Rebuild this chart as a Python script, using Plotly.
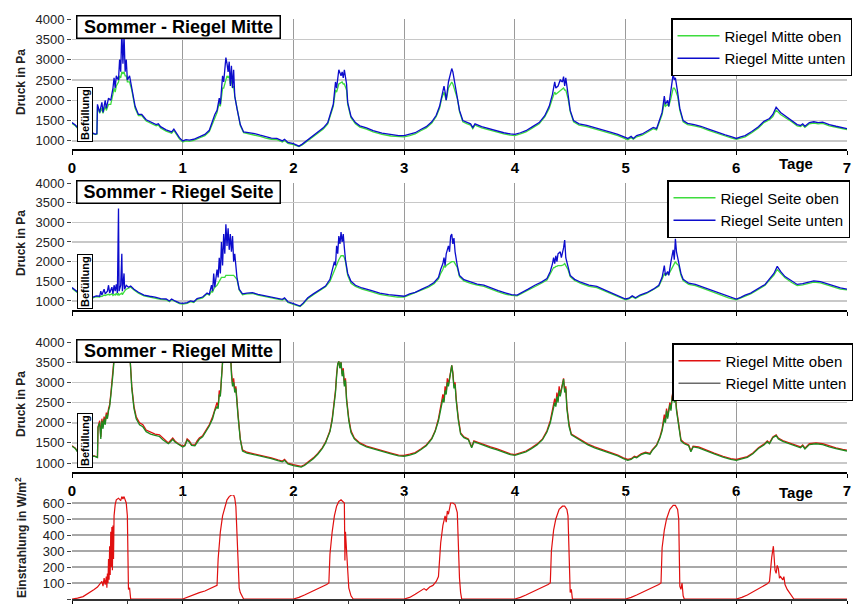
import plotly.graph_objects as go

# ---------------- data ----------------
DAY_TICKS = [0, 1, 2, 3, 4, 5, 6, 7]
DAY_LABELS = ["0", "1", "2", "3", "4", "5", "6", "7"]
PRESSURE_TICKS = [1000, 1500, 2000, 2500, 3000, 3500, 4000]
IRR_TICKS = [0, 100, 200, 300, 400, 500, 600]

# Panel 1: Sommer - Riegel Mitte (Druck in Pa)
P1_DAYS = [
    0.00, 0.03, 0.06, 0.10, 0.15, 0.19, 0.21, 0.225, 0.23, 0.25,
    0.27, 0.28, 0.30, 0.31, 0.33, 0.35, 0.37, 0.38, 0.39, 0.40,
    0.42, 0.43, 0.44, 0.45, 0.46, 0.47, 0.48, 0.49, 0.50, 0.52,
    0.54, 0.57, 0.60, 0.63, 0.67, 0.72, 0.76, 0.78, 0.80, 0.85,
    0.90, 0.92, 0.94, 0.97,
    1.00, 1.03, 1.06, 1.10, 1.15, 1.20, 1.24, 1.27, 1.29, 1.31,
    1.33, 1.34, 1.36, 1.37, 1.39, 1.40, 1.41, 1.42, 1.43, 1.44,
    1.45, 1.46, 1.47, 1.49, 1.52, 1.55, 1.60, 1.65, 1.70, 1.75,
    1.80, 1.85, 1.90, 1.92, 1.95,
    2.00, 2.03, 2.05, 2.08, 2.12, 2.17, 2.22, 2.27, 2.31, 2.34,
    2.36, 2.38, 2.39, 2.41, 2.43, 2.44, 2.45, 2.46, 2.48, 2.49,
    2.52, 2.56, 2.60, 2.66, 2.72, 2.80, 2.88, 2.95,
    3.00, 3.05, 3.10, 3.15, 3.20, 3.25, 3.29, 3.32, 3.34, 3.36,
    3.37, 3.38, 3.40, 3.42, 3.43, 3.44, 3.46, 3.48, 3.50, 3.53,
    3.57, 3.60, 3.62, 3.64, 3.70, 3.76, 3.82, 3.90, 3.96,
    4.00, 4.05, 4.10, 4.16, 4.22, 4.27, 4.31, 4.34, 4.36, 4.37,
    4.39, 4.41, 4.43, 4.44, 4.45, 4.46, 4.48, 4.50, 4.53, 4.58,
    4.65, 4.72, 4.80, 4.87, 4.93, 4.98,
    5.02, 5.05, 5.07, 5.10, 5.15, 5.20, 5.25, 5.28, 5.31, 5.33,
    5.35, 5.36, 5.38, 5.39, 5.41, 5.43, 5.44, 5.45, 5.47, 5.49,
    5.52, 5.56, 5.62, 5.68, 5.75, 5.82, 5.90, 5.96,
    6.00, 6.04, 6.08, 6.14, 6.20, 6.25, 6.30, 6.33, 6.36, 6.40,
    6.45, 6.50, 6.55, 6.58, 6.60, 6.62, 6.66, 6.70, 6.74, 6.78,
    6.84, 6.90, 6.96, 7.00,
]
P1_UNTEN = [
    1450, 1390, 1300, 1230, 1200, 1190, 1160, 1180, 1900, 1700,
    1950, 1700, 2000, 1800, 2050, 2000, 2300, 2550, 2300, 2600,
    2500, 3000, 2700, 3700, 2900, 3600, 2700, 3000, 2500, 2600,
    2300, 1850, 1650, 1650, 1520, 1450, 1400, 1420, 1350, 1270,
    1220, 1290, 1200, 1080,
    1000, 1030, 1020, 1040, 1100, 1160, 1260, 1500, 1650, 1750,
    2050, 1900, 2600, 2450, 3050, 2900, 2700, 2950, 2350, 2850,
    2300, 2750, 2100, 1800, 1400, 1220, 1200, 1180, 1140, 1100,
    1070, 1060, 1000, 1040, 960,
    930, 900, 870, 920, 1000, 1100, 1200, 1320, 1450, 1700,
    1900, 2450, 2300, 2750, 2600, 2700, 2550, 2750, 2400, 1950,
    1600, 1450, 1370, 1320, 1250, 1190, 1150, 1130,
    1130, 1160, 1200, 1280, 1350, 1470, 1630, 1850, 2150, 2350,
    2200, 2000, 2450, 2650, 2780, 2700, 2350, 2100, 1750, 1500,
    1450, 1420, 1330, 1420, 1350, 1300, 1250, 1200, 1170,
    1160, 1200, 1250, 1350, 1450, 1620, 1850, 2150, 2450, 2300,
    2350, 2500, 2450, 2580, 2350, 2550, 2100, 1750, 1500, 1420,
    1380, 1330, 1270, 1210, 1160, 1110,
    1060, 1110, 1060, 1130, 1170, 1250, 1330, 1300, 1550, 1700,
    2100, 1900, 2000, 1850, 2250, 2650, 2500, 2550, 2200, 1800,
    1500, 1430, 1400, 1360, 1290, 1220, 1150, 1100,
    1060, 1100, 1130, 1230, 1350, 1480, 1550, 1650, 1830, 1700,
    1600, 1500, 1400, 1380, 1420, 1360, 1450, 1470, 1450, 1460,
    1400, 1360, 1330, 1300,
]
P1_OBEN = [
    1430, 1370, 1280, 1210, 1180, 1170, 1150, 1160, 1850, 1680,
    1800, 1680, 1850, 1750, 1900, 1900, 2150, 2300, 2200, 2350,
    2450, 2600, 2550, 2700, 2650, 2700, 2600, 2600, 2450, 2450,
    2250, 1800, 1620, 1620, 1490, 1420, 1370, 1390, 1320, 1240,
    1190, 1260, 1170, 1050,
    970, 1000, 990, 1010, 1070, 1130, 1230, 1450, 1600, 1700,
    1950, 1850, 2300, 2300, 2500, 2600, 2550, 2600, 2400, 2500,
    2300, 2350, 2100, 1780, 1380, 1200, 1170, 1150, 1110, 1070,
    1040, 1030, 970, 1010, 940,
    910, 880, 860, 900, 980, 1070, 1170, 1290, 1420, 1650,
    1850, 2250, 2200, 2400, 2450, 2450, 2400, 2400, 2250, 1900,
    1570, 1420, 1340, 1290, 1220, 1160, 1120, 1100,
    1100, 1130, 1170, 1250, 1320, 1440, 1600, 1800, 2050, 2200,
    2100, 2000, 2300, 2400, 2450, 2400, 2250, 2050, 1720, 1470,
    1420, 1390, 1300, 1390, 1320, 1270, 1220, 1170, 1140,
    1130, 1170, 1220, 1320, 1420, 1590, 1800, 2050, 2200, 2150,
    2200, 2250, 2300, 2300, 2250, 2250, 2050, 1720, 1470, 1390,
    1350, 1300, 1240, 1180, 1130, 1080,
    1030, 1080, 1040, 1100, 1140, 1220, 1300, 1270, 1500, 1650,
    1950, 1850, 1900, 1850, 2050, 2300, 2300, 2250, 2100, 1750,
    1470, 1400, 1370, 1330, 1260, 1190, 1120, 1070,
    1040, 1070, 1100, 1200, 1320, 1450, 1520, 1600, 1760, 1650,
    1570, 1470, 1370, 1350, 1390, 1330, 1420, 1440, 1420, 1430,
    1370, 1330, 1300, 1280,
]

# Panel 2: Sommer - Riegel Seite (Druck in Pa)
P2_DAYS = [
    0.00, 0.03, 0.06, 0.10, 0.15, 0.19, 0.22, 0.25, 0.26, 0.27,
    0.29, 0.30, 0.32, 0.33, 0.34, 0.36, 0.37, 0.38, 0.39, 0.40,
    0.41, 0.42, 0.425, 0.44, 0.45, 0.455, 0.47, 0.475, 0.49, 0.51,
    0.53, 0.56, 0.60, 0.65, 0.70, 0.75, 0.80, 0.85, 0.88, 0.90,
    0.93, 0.97,
    1.00, 1.04, 1.07, 1.10, 1.13, 1.18, 1.22, 1.24, 1.26, 1.27,
    1.28, 1.29, 1.31, 1.32, 1.33, 1.34, 1.35, 1.36, 1.37, 1.38,
    1.39, 1.40, 1.41, 1.42, 1.43, 1.44, 1.45, 1.46, 1.47, 1.49,
    1.51, 1.54, 1.58, 1.63, 1.68, 1.73, 1.80, 1.86, 1.90, 1.92,
    1.95,
    2.00, 2.03, 2.06, 2.09, 2.13, 2.18, 2.24, 2.29, 2.33, 2.35,
    2.37, 2.38, 2.39, 2.40, 2.41, 2.42, 2.43, 2.44, 2.45, 2.46,
    2.47, 2.49, 2.52, 2.56, 2.62, 2.70, 2.78, 2.86, 2.94,
    3.00, 3.05, 3.10, 3.16, 3.22, 3.27, 3.31, 3.33, 3.35, 3.36,
    3.37, 3.38, 3.40, 3.41, 3.42, 3.43, 3.44, 3.45, 3.46, 3.48,
    3.50, 3.54, 3.60, 3.66, 3.72, 3.78, 3.85, 3.92, 3.97,
    4.02, 4.07, 4.12, 4.18, 4.24, 4.29, 4.32, 4.34, 4.35, 4.36,
    4.37, 4.38, 4.39, 4.41, 4.42, 4.44, 4.45, 4.46, 4.48, 4.50,
    4.54, 4.60, 4.67, 4.74, 4.82, 4.90, 4.96,
    5.00, 5.03, 5.06, 5.09, 5.13, 5.19, 5.25, 5.30, 5.33, 5.35,
    5.36, 5.38, 5.39, 5.41, 5.43, 5.44, 5.45, 5.46, 5.48, 5.50,
    5.52, 5.57, 5.63, 5.70, 5.78, 5.86, 5.93,
    6.00, 6.04, 6.08, 6.13, 6.18, 6.22, 6.26, 6.30, 6.34, 6.37,
    6.40, 6.44, 6.50, 6.55, 6.60, 6.65, 6.70, 6.76, 6.82, 6.88,
    6.94, 7.00,
]
P2_UNTEN = [
    1340, 1270, 1200, 1120, 1100, 1100, 1130, 1120, 1250, 1150,
    1300, 1180, 1250, 1400, 1200, 1350, 1180, 1400, 1250, 1420,
    1200, 3350, 1250, 1400, 2200, 1250, 1700, 1300, 1400, 1350,
    1380, 1300, 1220, 1150, 1120, 1100, 1060, 1050, 1000, 1050,
    1000, 950,
    940, 960, 1000, 980, 1060, 1100, 1200, 1170, 1400, 1250,
    1700, 1350, 1800, 1600, 2100, 1700, 2500, 1900, 2700, 2200,
    2950, 2400, 2850, 2300, 2700, 2250, 2650, 2000, 2200, 1600,
    1300, 1180, 1200, 1210, 1170, 1140, 1090, 1060, 1040, 1080,
    980,
    930, 900, 870, 950, 1080, 1180, 1280, 1380, 1550, 1750,
    2000, 1900, 2400, 2200, 2650, 2450, 2750, 2500, 2700, 2350,
    2050, 1700, 1500, 1400, 1330, 1270, 1200, 1160, 1130,
    1120, 1180, 1220, 1300, 1380, 1470, 1600, 1800, 1950, 2100,
    1900, 2200, 2400, 2250, 2650, 2700, 2450, 2600, 2250, 1900,
    1650, 1540, 1480, 1430, 1400, 1330, 1260, 1200, 1160,
    1150, 1220, 1300, 1400, 1480, 1570, 1750, 1950, 2100, 1950,
    2150, 2000, 2200, 2250, 2100, 2350, 2550, 2100, 1850, 1650,
    1550, 1470, 1400, 1370, 1270, 1180, 1100,
    1050, 1070, 1130, 1080, 1150, 1210, 1300, 1400, 1600, 1900,
    1650, 1750, 1650, 2000, 2300, 2050, 2580, 2250, 2000, 1700,
    1550, 1450, 1420, 1350, 1260, 1180, 1100,
    1050, 1090, 1150, 1200, 1280, 1340, 1420, 1560, 1700, 1880,
    1750, 1620, 1500, 1420, 1440, 1480, 1510, 1490, 1430, 1380,
    1330, 1300,
]
P2_OBEN = [
    1320, 1250, 1180, 1100, 1080, 1080, 1110, 1100, 1120, 1110,
    1150, 1140, 1160, 1170, 1150, 1180, 1140, 1170, 1150, 1200,
    1150, 1200, 1150, 1180, 1200, 1160, 1250, 1250, 1300, 1320,
    1350, 1280, 1200, 1130, 1100, 1080, 1040, 1030, 980, 1030,
    980, 930,
    920, 940, 980, 960, 1040, 1080, 1180, 1150, 1250, 1230,
    1300, 1350, 1400, 1450, 1500, 1550, 1600, 1600, 1600, 1600,
    1650, 1650, 1650, 1650, 1650, 1650, 1650, 1650, 1620, 1550,
    1280, 1160, 1180, 1190, 1150, 1120, 1070, 1040, 1020, 1060,
    960,
    910, 880, 860, 930, 1060, 1160, 1260, 1360, 1500, 1650,
    1800, 1850, 1950, 2000, 2050, 2100, 2150, 2150, 2150, 2100,
    2000, 1650, 1450, 1370, 1300, 1240, 1170, 1130, 1100,
    1100, 1160, 1200, 1280, 1350, 1440, 1560, 1700, 1800, 1900,
    1850, 1900, 1950, 1950, 2000, 2000, 2000, 2000, 1950, 1850,
    1620, 1510, 1450, 1400, 1370, 1300, 1230, 1170, 1140,
    1130, 1200, 1270, 1370, 1450, 1530, 1680, 1800, 1850, 1850,
    1880, 1880, 1900, 1900, 1900, 1920, 1950, 1900, 1800, 1620,
    1520, 1440, 1370, 1340, 1240, 1150, 1080,
    1030, 1050, 1110, 1060, 1130, 1190, 1280, 1370, 1550, 1700,
    1650, 1700, 1680, 1800, 1900, 1950, 2000, 1950, 1900, 1650,
    1520, 1420, 1390, 1320, 1230, 1150, 1080,
    1030, 1070, 1130, 1180, 1260, 1320, 1400, 1530, 1660, 1800,
    1720, 1590, 1470, 1390, 1410, 1450, 1480, 1460, 1400, 1350,
    1300, 1280,
]

# Panel 3: Sommer - Riegel Mitte (second measurement, Druck in Pa)
P3_DAYS = [
    0.00, 0.03, 0.06, 0.10, 0.15, 0.20, 0.23, 0.235, 0.25, 0.26,
    0.27, 0.28, 0.29, 0.30, 0.31, 0.32, 0.33, 0.34, 0.35, 0.36,
    0.37, 0.38, 0.39, 0.40, 0.45, 0.50, 0.52, 0.53, 0.54, 0.56,
    0.58, 0.61, 0.64, 0.67, 0.71, 0.75, 0.79, 0.82, 0.85, 0.87,
    0.89, 0.91, 0.93, 0.96,
    1.00, 1.02, 1.04, 1.06, 1.08, 1.11, 1.13, 1.15, 1.18, 1.21,
    1.24, 1.27, 1.29, 1.31, 1.32, 1.33, 1.34, 1.35, 1.36, 1.37,
    1.40, 1.43, 1.44, 1.45, 1.46, 1.47, 1.48, 1.49, 1.50, 1.52,
    1.54, 1.58, 1.63, 1.68, 1.74, 1.80, 1.86, 1.90, 1.92, 1.95,
    2.00, 2.04, 2.07, 2.10, 2.14, 2.18, 2.22, 2.26, 2.29, 2.31,
    2.33, 2.35, 2.37, 2.38, 2.39, 2.40, 2.41, 2.42, 2.43, 2.44,
    2.45, 2.46, 2.47, 2.48, 2.50, 2.52, 2.55, 2.60, 2.66, 2.72,
    2.80, 2.88, 2.95,
    3.00, 3.05, 3.10, 3.15, 3.20, 3.25, 3.28, 3.31, 3.33, 3.35,
    3.36, 3.37, 3.38, 3.39, 3.40, 3.42, 3.43, 3.44, 3.45, 3.46,
    3.47, 3.49, 3.51, 3.54, 3.58, 3.61, 3.63, 3.66, 3.72, 3.78,
    3.84, 3.90, 3.96,
    4.00, 4.05, 4.10, 4.15, 4.20, 4.25, 4.29, 4.32, 4.34, 4.36,
    4.37, 4.38, 4.39, 4.40, 4.41, 4.43, 4.44, 4.45, 4.46, 4.47,
    4.49, 4.51, 4.55, 4.60, 4.66, 4.72, 4.80, 4.87, 4.93, 4.98,
    5.02, 5.05, 5.08, 5.10, 5.14, 5.18, 5.22, 5.24, 5.28, 5.31,
    5.33, 5.35, 5.36, 5.37, 5.38, 5.40, 5.41, 5.42, 5.43, 5.44,
    5.45, 5.46, 5.48, 5.50, 5.53, 5.57, 5.59, 5.61, 5.66, 5.72,
    5.80, 5.88, 5.95,
    6.00, 6.05, 6.10, 6.15, 6.20, 6.25, 6.28, 6.30, 6.33, 6.36,
    6.38, 6.42, 6.48, 6.54, 6.58, 6.60, 6.62, 6.66, 6.72, 6.78,
    6.84, 6.90, 6.96, 7.00,
]
P3_OBEN = [
    1430, 1370, 1250, 1180, 1170, 1180, 1150, 1900, 2050, 1650,
    2100, 1900, 2150, 2000, 2250, 2150, 2350, 2450, 2700, 3100,
    3300, 3600, 3900, 4300, 4600, 4300, 3800, 3300, 2900, 2400,
    2150, 2000, 1950, 1820, 1760, 1720, 1700, 1620, 1560, 1500,
    1560, 1620, 1550, 1480,
    1420, 1450, 1600, 1550, 1460, 1450, 1550, 1620, 1680, 1800,
    1950, 2150, 2350, 2500, 2400, 2800, 2700, 3200, 3500, 3900,
    4400, 3800, 3300, 2950, 3100, 2800, 2900, 2500, 2200, 1600,
    1330, 1270, 1240, 1210, 1180, 1130, 1080, 1050, 1090, 1000,
    960, 930, 920, 960, 1040, 1130, 1240, 1380, 1520, 1650,
    1800, 2100, 2500, 2800, 3200, 3450, 3520, 3350, 3500, 3200,
    3350, 2950, 3100, 2600, 2100, 1800, 1620, 1500, 1420, 1370,
    1300, 1250, 1200,
    1190, 1220, 1260, 1350, 1450, 1620, 1800, 2100, 2400, 2700,
    2550, 2900, 2750, 3100, 2950, 3300, 3420, 3250, 2900, 3000,
    2600, 2100, 1750, 1650, 1600, 1400, 1550, 1520, 1450, 1400,
    1350, 1290, 1230,
    1210, 1250, 1300, 1380, 1470, 1600, 1800, 2050, 2300, 2600,
    2450, 2750, 2550, 2900, 2700, 3000, 3100, 2800, 2900, 2400,
    1950, 1720, 1650, 1560, 1470, 1400, 1320, 1250, 1200, 1130,
    1090, 1110, 1170, 1150, 1230, 1270, 1240, 1330, 1450, 1650,
    1850, 2200, 2050, 2350, 2150, 2500, 2350, 2650, 2800, 2550,
    2700, 2350, 1900, 1580, 1500, 1450, 1300, 1420, 1400, 1330,
    1250, 1170, 1110,
    1090, 1120, 1160, 1250, 1380, 1470, 1550, 1500, 1650, 1700,
    1620, 1560, 1500, 1430, 1400, 1450, 1370, 1480, 1500, 1480,
    1420, 1380, 1340, 1320,
]
P3_UNTEN = [
    1420, 1360, 1240, 1170, 1160, 1170, 1140, 1880, 2000, 1600,
    2050, 1850, 2100, 1950, 2200, 2100, 2300, 2400, 2650, 3050,
    3200, 3550, 3900, 4300, 4600, 4300, 3800, 3250, 2850, 2350,
    2100, 1950, 1900, 1780, 1720, 1690, 1660, 1580, 1520, 1480,
    1530, 1590, 1520, 1460,
    1400, 1430, 1570, 1520, 1440, 1430, 1520, 1590, 1650, 1770,
    1920, 2100, 2300, 2400, 2350, 2700, 2650, 3100, 3500, 3900,
    4400, 3800, 3200, 2900, 3000, 2750, 2850, 2450, 2150, 1580,
    1300, 1250, 1220, 1190, 1160, 1110, 1060, 1030, 1070, 980,
    940, 910, 900, 940, 1020, 1110, 1220, 1360, 1500, 1620,
    1780, 2050, 2450, 2750, 3150, 3450, 3520, 3350, 3500, 3150,
    3300, 2900, 3050, 2550, 2050, 1760, 1600, 1480, 1400, 1350,
    1280, 1230, 1180,
    1170, 1200, 1240, 1330, 1430, 1600, 1780, 2050, 2350, 2600,
    2500, 2800, 2700, 3000, 2900, 3250, 3420, 3200, 2850, 2950,
    2550, 2050, 1720, 1630, 1580, 1380, 1530, 1500, 1430, 1380,
    1330, 1270, 1210,
    1190, 1230, 1280, 1360, 1450, 1580, 1770, 2000, 2250, 2500,
    2400, 2650, 2500, 2800, 2650, 2950, 3080, 2750, 2850, 2350,
    1900, 1700, 1630, 1540, 1450, 1380, 1300, 1230, 1180, 1110,
    1070, 1090, 1150, 1130, 1210, 1250, 1220, 1310, 1430, 1620,
    1800, 2100, 2000, 2300, 2100, 2450, 2300, 2600, 2780, 2500,
    2650, 2300, 1850, 1550, 1480, 1430, 1280, 1400, 1380, 1310,
    1230, 1150, 1090,
    1070, 1100, 1140, 1230, 1360, 1450, 1530, 1480, 1630, 1680,
    1600, 1540, 1480, 1410, 1380, 1430, 1350, 1460, 1480, 1460,
    1400, 1360, 1320, 1300,
]

# Panel 4: Einstrahlung in W/m2
P4_DAYS = [
    0.00, 0.05, 0.10, 0.15, 0.20, 0.23, 0.25, 0.27, 0.28, 0.29,
    0.30, 0.31, 0.315, 0.32, 0.325, 0.33, 0.335, 0.34, 0.345, 0.35,
    0.355, 0.36, 0.365, 0.37, 0.375, 0.38, 0.39, 0.40, 0.42, 0.44,
    0.45, 0.46, 0.47, 0.48, 0.49, 0.50, 0.505, 0.51, 0.52, 0.525, 0.53,
    1.00, 1.05, 1.10, 1.15, 1.20, 1.25, 1.28, 1.31, 1.32, 1.34,
    1.36, 1.38, 1.40, 1.42, 1.44, 1.46, 1.47, 1.48, 1.50, 1.51,
    1.52, 1.55,
    2.00, 2.05, 2.10, 2.15, 2.20, 2.25, 2.30, 2.32, 2.33, 2.35,
    2.37, 2.39, 2.41, 2.43, 2.45, 2.46, 2.465, 2.47, 2.48, 2.50,
    2.52, 2.54,
    3.00, 3.05, 3.10, 3.15, 3.18, 3.20, 3.23, 3.26, 3.29, 3.31,
    3.33, 3.35, 3.37, 3.38, 3.39, 3.40, 3.42, 3.44, 3.46, 3.48,
    3.49, 3.50, 3.51, 3.52,
    4.00, 4.05, 4.10, 4.15, 4.20, 4.25, 4.30, 4.32, 4.33, 4.35,
    4.37, 4.40, 4.43, 4.45, 4.47, 4.48, 4.49, 4.50, 4.51, 4.52,
    5.00, 5.05, 5.10, 5.15, 5.20, 5.25, 5.30, 5.32, 5.33, 5.35,
    5.37, 5.40, 5.43, 5.45, 5.47, 5.48, 5.49, 5.50, 5.51, 5.52,
    5.53,
    6.00, 6.05, 6.10, 6.15, 6.20, 6.25, 6.28, 6.30, 6.31, 6.32,
    6.335, 6.345, 6.35, 6.36, 6.37, 6.38, 6.39, 6.40, 6.42, 6.43,
    6.44, 6.46, 6.48, 6.52, 7.00,
]
P4_IRR = [
    0, 5, 15, 35, 60, 75, 90, 110, 80, 130,
    90, 140, 70, 160, 100, 250, 120, 330, 150, 420,
    200, 450, 180, 460, 250, 520, 590, 620, 630, 615,
    640, 625, 640, 620, 600, 520, 300, 60, 70, 20, 0,
    0, 15, 30, 40, 50, 65, 75, 85, 250, 420,
    520, 580, 620, 640, 650, 650, 630, 580, 300, 70,
    40, 0,
    0, 10, 25, 40, 55, 70, 90, 100, 280, 420,
    520, 580, 610, 620, 610, 600, 240, 420, 300, 70,
    20, 0,
    0, 10, 30, 50, 65, 55, 75, 85, 110, 140,
    350, 460, 520, 480, 550, 530, 600, 600, 590, 540,
    300, 130, 40, 0,
    0, 10, 25, 40, 55, 70, 90, 100, 300, 430,
    500, 560, 580, 580, 560, 520, 200, 40, 60, 0,
    0, 10, 25, 40, 55, 70, 90, 100, 320, 430,
    500, 560, 585, 585, 560, 500, 80, 60, 100, 20,
    0,
    0, 10, 25, 45, 60, 80, 95, 110, 200, 260,
    330, 240, 180, 160, 210, 190, 130, 140, 120, 140,
    90, 60, 40, 0, 0,
]

assert len(P1_DAYS) == len(P1_UNTEN) == len(P1_OBEN)
assert len(P2_DAYS) == len(P2_UNTEN) == len(P2_OBEN)
assert len(P3_DAYS) == len(P3_UNTEN) == len(P3_OBEN)
assert len(P4_DAYS) == len(P4_IRR)

# ---------------- figure ----------------
W, H = 862, 604
FONT = "Arial, Liberation Sans, sans-serif"
X0, X1 = 72, 847


def px(x):
    return x / W


def py(y):
    return 1 - y / H


def dom(top, bottom):
    return [py(bottom), py(top)]


GREEN_L = "#3ddc3d"
BLUE = "#0c0ccc"
RED = "#e01010"
DKGREEN = "#1f8a1f"

fig = go.Figure()

fig.add_trace(go.Scatter(x=P1_DAYS, y=P1_OBEN, mode="lines", name="Riegel Mitte oben",
                         line=dict(color=GREEN_L, width=1.3), xaxis="x", yaxis="y", legend="legend"))
fig.add_trace(go.Scatter(x=P1_DAYS, y=P1_UNTEN, mode="lines", name="Riegel Mitte unten",
                         line=dict(color=BLUE, width=1.3), xaxis="x", yaxis="y", legend="legend"))

fig.add_trace(go.Scatter(x=P2_DAYS, y=P2_OBEN, mode="lines", name="Riegel Seite oben",
                         line=dict(color=GREEN_L, width=1.3), xaxis="x2", yaxis="y2", legend="legend2"))
fig.add_trace(go.Scatter(x=P2_DAYS, y=P2_UNTEN, mode="lines", name="Riegel Seite unten",
                         line=dict(color=BLUE, width=1.3), xaxis="x2", yaxis="y2", legend="legend2"))

fig.add_trace(go.Scatter(x=P3_DAYS, y=P3_OBEN, mode="lines", name="Riegel Mitte oben",
                         line=dict(color=RED, width=1.3), xaxis="x3", yaxis="y3", legend="legend3"))
fig.add_trace(go.Scatter(x=P3_DAYS, y=P3_UNTEN, mode="lines", name="Riegel Mitte unten",
                         line=dict(color=DKGREEN, width=1.3), xaxis="x3", yaxis="y3",
                         showlegend=False))
fig.add_trace(go.Scatter(x=[None], y=[None], mode="lines", name="Riegel Mitte unten",
                         line=dict(color="#6a6a6a", width=1.5), xaxis="x3", yaxis="y3", legend="legend3"))

fig.add_trace(go.Scatter(x=P4_DAYS, y=P4_IRR, mode="lines", showlegend=False,
                         line=dict(color=RED, width=1.2), xaxis="x4", yaxis="y4"))

xbase = dict(domain=[px(X0), px(X1)], range=[0, 7], tickvals=DAY_TICKS, ticktext=DAY_LABELS,
             showgrid=True, gridcolor="#9a9a9a", gridwidth=1, zeroline=False,
             showline=True, linecolor="black", linewidth=1.5,
             ticks="outside", ticklen=4, tickcolor="black", tickwidth=1,
             tickfont=dict(family=FONT, size=15, color="black", weight="bold"),
             automargin=False, fixedrange=True)
ybase = dict(showgrid=True, gridcolor="#c8c8c8", gridwidth=1.5, zeroline=False,
             showline=False, ticks="outside", ticklen=4, tickcolor="#444",
             tickfont=dict(family=FONT, size=13, color="#222"),
             automargin=False, fixedrange=True)

layout = dict(
    width=W, height=H, autosize=False,
    margin=dict(l=0, r=0, t=0, b=0),
    paper_bgcolor="white", plot_bgcolor="white",
    font=dict(family=FONT, color="black"),
    template="none",
    xaxis=dict(xbase, anchor="y"),
    xaxis2=dict(xbase, anchor="y2", showticklabels=False),
    xaxis3=dict(xbase, anchor="y3"),
    xaxis4=dict(xbase, anchor="y4", showticklabels=False, linecolor="#333",
                minor=dict(dtick=0.5, tick0=0, ticks="outside", ticklen=4, tickcolor="#333", showgrid=False)),
    yaxis=dict(ybase, domain=dom(19, 149), range=[800, 4000], tickvals=PRESSURE_TICKS, anchor="x"),
    yaxis2=dict(ybase, domain=dom(183, 310), range=[770, 4000], tickvals=PRESSURE_TICKS, anchor="x2"),
    yaxis3=dict(ybase, domain=dom(342, 472), range=[780, 4000], tickvals=PRESSURE_TICKS, anchor="x3"),
    yaxis4=dict(ybase, domain=dom(495, 599), range=[0, 650], tickvals=IRR_TICKS, anchor="x4",
                gridcolor="#a8a8a8"),
    showlegend=True,
)

leg = dict(xanchor="right", yanchor="top", bgcolor="white", bordercolor="black", borderwidth=1.5,
           font=dict(family=FONT, size=15, color="black"), tracegroupgap=0, itemwidth=42,
           traceorder="normal")
layout["legend"] = dict(leg, x=px(852), y=py(18))
layout["legend2"] = dict(leg, x=px(850), y=py(180))
layout["legend3"] = dict(leg, x=px(853), y=py(343))

fig.update_layout(**layout)

annotations = []
# panel titles
for title, top in [("Sommer - Riegel Mitte", 15), ("Sommer - Riegel Seite", 180), ("Sommer - Riegel Mitte", 339)]:
    annotations.append(dict(text="<b>" + title + "</b>", xref="paper", yref="paper",
                            x=px(76), y=py(top), xanchor="left", yanchor="top", showarrow=False,
                            font=dict(family=FONT, size=18, color="black"),
                            bgcolor="white", bordercolor="black", borderwidth=1.5, borderpad=1,
                            width=200, height=19, align="center"))
# Befuellung labels
for cy in [115, 282, 441]:
    annotations.append(dict(text="<b>Befüllung</b>", xref="paper", yref="paper",
                            x=px(85), y=py(cy), xanchor="center", yanchor="middle", showarrow=False,
                            textangle=-90, font=dict(family=FONT, size=11, color="black"),
                            bgcolor="white", bordercolor="black", borderwidth=1, borderpad=1))
# y-axis titles
for txt, cy in [("Druck in Pa", 82), ("Druck in Pa", 243), ("Druck in Pa", 404),
                ("Einstrahlung in W/m<sup>2</sup>", 538)]:
    annotations.append(dict(text="<b>" + txt + "</b>", xref="paper", yref="paper",
                            x=px(21), y=py(cy), xanchor="center", yanchor="middle", showarrow=False,
                            textangle=-90, font=dict(family=FONT, size=12, color="#222")))
# "Tage" labels
for cy in [163, 492]:
    annotations.append(dict(text="<b>Tage</b>", xref="paper", yref="paper",
                            x=px(796), y=py(cy), xanchor="center", yanchor="middle", showarrow=False,
                            font=dict(family=FONT, size=15, color="black")))

fig.update_layout(annotations=annotations)

# remove the browser's default 8px page margin so the figure fills the window exactly
fig.write_html("out.html",
               config={"displayModeBar": False, "staticPlot": True},
               post_script="document.body.style.margin='0';document.body.style.padding='0';"
                           "document.documentElement.style.overflow='hidden';")
